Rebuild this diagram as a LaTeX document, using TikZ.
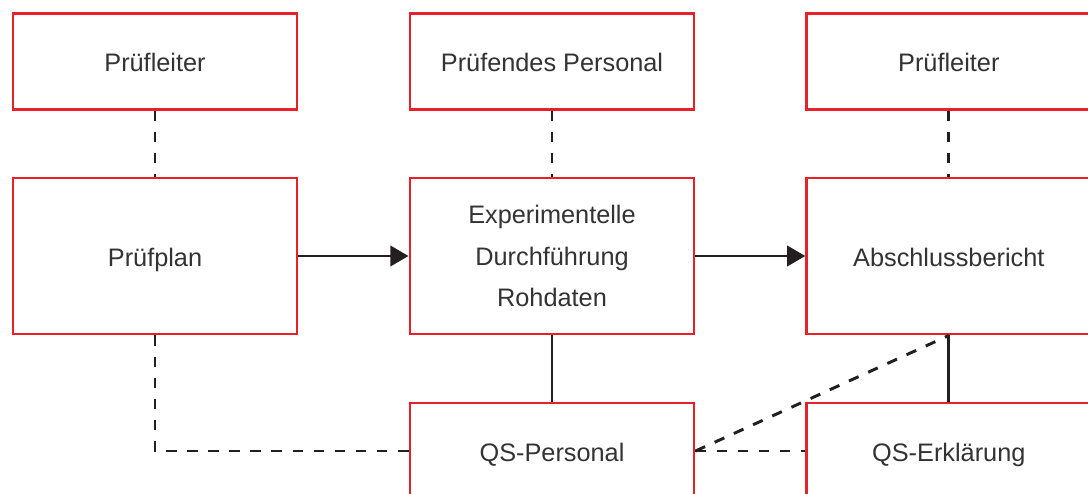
\documentclass[tikz,border=0pt]{standalone}
\usepackage{fontspec}
\setmainfont{Liberation Sans}
\usepackage{tikz}
\usetikzlibrary{arrows.meta}
\definecolor{boxred}{HTML}{E8202A}
\definecolor{ink}{HTML}{231F20}
\definecolor{txt}{HTML}{333333}
\tikzset{
  box/.style={draw=boxred, line width=2.1pt, fill=white, minimum width=7.1cm,
    text=txt, align=center, inner sep=0pt,
    font=\fontsize{18}{29.4}\selectfont},
  oneline/.style={text height=0.52cm, text depth=0pt},
  lowbox/.style={box, oneline, minimum height=2.4cm},
  highbox/.style={box, minimum height=3.9cm},
  link/.style={draw=ink, line width=2.1pt},
  dashlink/.style={link, dash pattern=on 7.5pt off 7.5pt},
  flow/.style={link, -{Triangle[length=13pt,width=14.5pt]}}
}
\begin{document}
\begin{tikzpicture}
\useasboundingbox (0,0) rectangle (27.2,-12.325);
\clip (0,0) rectangle (27.2,-12.325);

% obere Reihe
\node[lowbox] (lead1) at (3.875,-1.53) {Prüfleiter};
\node[lowbox] (staff) at (13.8,-1.53) {Prüfendes Personal};
\node[lowbox] (lead2) at (23.72,-1.53) {Prüfleiter};

% mittlere Reihe
\node[highbox, oneline] (plan) at (3.875,-6.4) {Prüfplan};
\node[highbox] (exper) at (13.8,-6.4) {Experimentelle\\Durchführung\\Rohdaten};
\node[highbox, oneline] (report) at (23.72,-6.4) {Abschlussbericht};

% untere Reihe
\node[lowbox] (qsstaff) at (13.8,-11.275) {QS-Personal};
\node[lowbox] (qsdecl) at (23.72,-11.275) {QS-Erklärung};

\draw[dashlink] (lead1) -- (plan);
\draw[dashlink] (staff) -- (exper);
\draw[dashlink] (lead2) -- (report);

\draw[flow] (plan) -- (exper);
\draw[flow] (exper) -- (report);

\draw[link] (exper) -- (qsstaff);
\draw[link] (report) -- (qsdecl);

\draw[dashlink] (plan.south) |- (qsstaff.west);
\draw[dashlink] (qsstaff.east) -- (report.south);
\draw[dashlink] (qsstaff.east) -- (qsdecl.west);

\end{tikzpicture}
\end{document}
